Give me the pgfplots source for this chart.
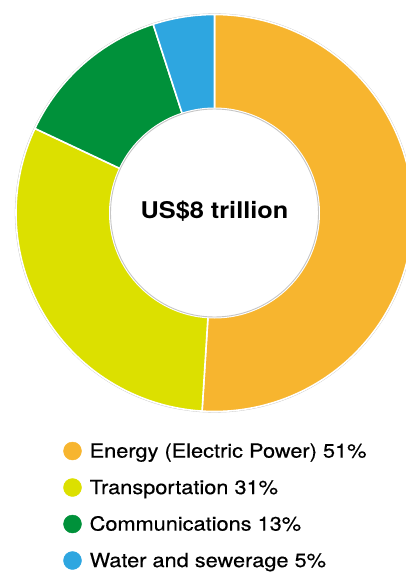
\documentclass[border=0pt]{standalone}
\usepackage{fontspec}
\setmainfont{TeX Gyre Heros}
\newfontfamily\legfont[FakeStretch=1.115, FakeBold=0.4]{TeX Gyre Heros}
\newfontfamily\cenfont[FakeStretch=1.1]{TeX Gyre Heros Bold}
\usepackage{pgfplots}
\usepackage{pgfplotstable}
\pgfplotsset{compat=1.18}
\definecolor{cEnergy}{RGB}{247,181,47}
\definecolor{cTrans}{RGB}{220,224,0}
\definecolor{cComm}{RGB}{0,145,58}
\definecolor{cWater}{RGB}{46,166,224}
\pgfplotstableread{
value color
51 cEnergy
31 cTrans
13 cComm
5 cWater
}\shares
\begin{document}
\begin{tikzpicture}
\begin{axis}[
  width=406bp, height=572bp, scale only axis,
  xmin=0, xmax=406, ymin=0, ymax=572, y dir=reverse,
  hide axis, clip=true,
]
\coordinate (BL) at (rel axis cs:0,0);
\coordinate (TR) at (rel axis cs:1,1);
% outer rim
\fill[gray!45] (axis cs:214.5,213) circle[radius=199.6bp];
\def\cum{0}
\pgfplotsforeachungrouped \i in {0,...,3}{%
  \pgfplotstablegetelem{\i}{value}\of\shares \let\v\pgfplotsretval
  \pgfplotstablegetelem{\i}{color}\of\shares \let\col\pgfplotsretval
  \pgfmathsetmacro\a{90-3.6*\cum}%
  \pgfmathsetmacro\b{90-3.6*(\cum+\v)}%
  \edef\temp{\noexpand\fill[\col, draw=white, line width=1.6bp, line join=round] (axis cs:214.5,213) -- ++(\a:198.5bp) arc[start angle=\a, end angle=\b, radius=198.5bp] -- cycle;}%
  \temp
  \pgfmathsetmacro\cum{\cum+\v}%
}
% inner hole
\fill[white] (axis cs:214.5,213) circle[radius=105.5bp];
\draw[gray!45, line width=0.9bp, fill=white] (axis cs:214.5,213) circle[radius=104bp];
\node[anchor=base, inner sep=0, font=\cenfont\fontsize{23bp}{24bp}\selectfont] at (axis cs:214.5,218.3) {US\$8 trillion};
% legend
\addplot[only marks, mark=*, mark size=9bp, color=cEnergy] coordinates {(72.5,451)};
\addplot[only marks, mark=*, mark size=9bp, color=cTrans] coordinates {(72.5,487.5)};
\addplot[only marks, mark=*, mark size=9bp, color=cComm] coordinates {(72.5,524)};
\addplot[only marks, mark=*, mark size=9bp, color=cWater] coordinates {(72.5,560.5)};
\node[anchor=base west, inner sep=0, font=\legfont\fontsize{19.5bp}{20bp}\selectfont] at (axis cs:89.5,457.6) {Energy (Electric Power) 51\%};
\node[anchor=base west, inner sep=0, font=\legfont\fontsize{19.5bp}{20bp}\selectfont] at (axis cs:89.5,494.1) {Transportation 31\%};
\node[anchor=base west, inner sep=0, font=\legfont\fontsize{19.5bp}{20bp}\selectfont] at (axis cs:89.5,530.6) {Communications 13\%};
\node[anchor=base west, inner sep=0, font=\legfont\fontsize{19.5bp}{20bp}\selectfont] at (axis cs:89.5,567.1) {Water and sewerage 5\%};
\end{axis}
\pgfresetboundingbox
\useasboundingbox (BL) rectangle (TR);
\end{tikzpicture}
\end{document}
